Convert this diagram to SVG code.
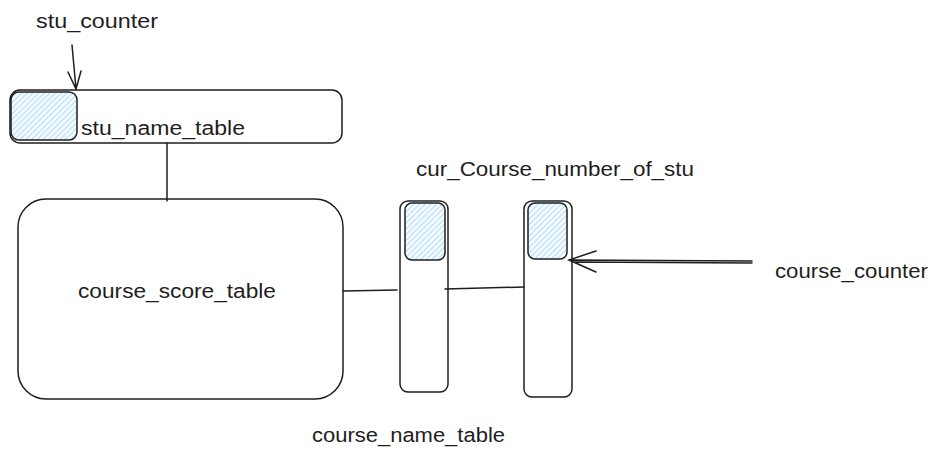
<svg xmlns="http://www.w3.org/2000/svg" width="937" height="459" viewBox="0 0 937 459">
<style>
.box{fill:none;stroke:#1e1e1e;stroke-width:1.5}
.hatch{fill:url(#hatch);stroke:#1e1e1e;stroke-width:1.5}
.ln{fill:none;stroke:#1e1e1e;stroke-width:1.5;stroke-linecap:round}
.lbl{font-family:"Liberation Sans",Arial,sans-serif;font-size:20px;fill:#1e1e1e}
</style>
<defs>
<pattern id="hatch" width="4" height="4" patternUnits="userSpaceOnUse" patternTransform="rotate(45)">
<rect width="4" height="4" fill="#ffffff"/>
<line x1="1" y1="0" x2="1" y2="4" stroke="#a5d8ff" stroke-width="1.2"/>
</pattern>
</defs>
<rect width="937" height="459" fill="#ffffff"/>

<g id="connectors">
<path class="ln" d="M72 45 L76 89 M68 72 L76 89 L81 71"/>
<path class="ln" d="M167 143 L167 201"/>
<path class="ln" d="M343 291 L397 290"/>
<path class="ln" d="M445 289 L524 287"/>
<path class="ln" d="M752 261 L569 260 M752 263 L575 262 M596 251 L569 260 L596 272"/>
</g>

<g id="stu_counter">
<text class="lbl" x="36" y="28" textLength="122" lengthAdjust="spacingAndGlyphs">stu_counter</text>
</g>

<g id="stu_name_table">
<rect class="box" x="10" y="90" width="332" height="53" rx="10"/>
<rect class="hatch" x="11" y="92" width="66" height="48" rx="8"/>
<text class="lbl" x="81" y="135" textLength="164" lengthAdjust="spacingAndGlyphs">stu_name_table</text>
</g>

<g id="course_score_table">
<rect class="box" x="18" y="199" width="325" height="200" rx="28"/>
<text class="lbl" x="78" y="298" textLength="198" lengthAdjust="spacingAndGlyphs">course_score_table</text>
</g>

<g id="course_name_table">
<rect class="box" x="400" y="201" width="48" height="191" rx="8"/>
<rect class="hatch" x="405" y="203" width="40" height="57" rx="7"/>
<text class="lbl" x="312" y="442" textLength="193" lengthAdjust="spacingAndGlyphs">course_name_table</text>
</g>

<g id="cur_Course_number_of_stu">
<rect class="box" x="524" y="201" width="48" height="196" rx="8"/>
<rect class="hatch" x="528" y="203" width="39" height="56" rx="7"/>
<text class="lbl" x="416" y="176" textLength="278" lengthAdjust="spacingAndGlyphs">cur_Course_number_of_stu</text>
</g>

<g id="course_counter">
<text class="lbl" x="775" y="278" textLength="153" lengthAdjust="spacingAndGlyphs">course_counter</text>
</g>
</svg>
